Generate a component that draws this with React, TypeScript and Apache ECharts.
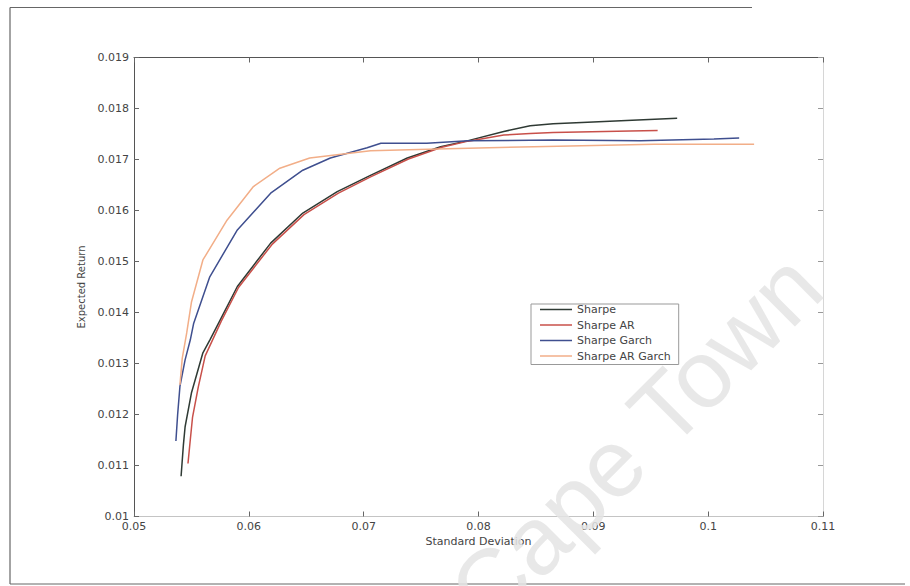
import React, { useEffect, useRef } from "react";
import * as echarts from "echarts";

const seriesNames = ["Sharpe", "Sharpe AR", "Sharpe Garch", "Sharpe AR Garch"];
const seriesColors = ["#2f3a34", "#c8504a", "#3f4f8f", "#f2ae88"];

const sharpe: [number, number][] = [
  [0.0541, 0.01079], [0.0543, 0.0114], [0.05445, 0.01176], [0.055, 0.01242],
  [0.056, 0.01321], [0.0566, 0.01346], [0.0575, 0.01385], [0.059, 0.01451],
  [0.0619, 0.01536], [0.0647, 0.01595], [0.0677, 0.01637], [0.0705, 0.01668],
  [0.0738, 0.01703], [0.0767, 0.01725], [0.0791, 0.01737], [0.0822, 0.01755],
  [0.0845, 0.01766], [0.0865, 0.0177], [0.0895, 0.01773], [0.0924, 0.01776],
  [0.0973, 0.01781],
];
const sharpeAR: [number, number][] = [
  [0.0547, 0.01104], [0.0549, 0.0115], [0.0551, 0.01195], [0.0556, 0.01254],
  [0.0562, 0.01315], [0.0576, 0.01383], [0.0591, 0.01449], [0.062, 0.01533],
  [0.0648, 0.01592], [0.0678, 0.01634], [0.0706, 0.01666], [0.0739, 0.01701],
  [0.0768, 0.01724], [0.0791, 0.01736], [0.0822, 0.01748], [0.0845, 0.01751],
  [0.0865, 0.01753], [0.0932, 0.01756], [0.0956, 0.01757],
];
const sharpeGarch: [number, number][] = [
  [0.05365, 0.01148], [0.0538, 0.012], [0.054, 0.01255], [0.05445, 0.01307],
  [0.0549, 0.01346], [0.0552, 0.01379], [0.0566, 0.0147], [0.059, 0.01562],
  [0.0619, 0.01634], [0.0647, 0.01679], [0.0671, 0.01703], [0.0703, 0.01723],
  [0.0715, 0.01732], [0.0755, 0.01732], [0.0791, 0.01737], [0.0865, 0.01738],
  [0.0941, 0.01737], [0.1005, 0.0174], [0.1027, 0.01742],
];
const sharpeARGarch: [number, number][] = [
  [0.054, 0.01258], [0.0542, 0.0131], [0.05459, 0.0136], [0.055, 0.0142],
  [0.056, 0.01503], [0.0581, 0.01581], [0.0604, 0.01647], [0.0627, 0.01683],
  [0.0653, 0.01703], [0.0706, 0.01717], [0.0773, 0.01721], [0.0848, 0.01725],
  [0.0953, 0.0173], [0.104, 0.0173],
];
const seriesData = [sharpe, sharpeAR, sharpeGarch, sharpeARGarch];

const xTickLabels = ["0.05", "0.06", "0.07", "0.08", "0.09", "0.1", "0.11"];
const yTickLabels = ["0.01", "0.011", "0.012", "0.013", "0.014", "0.015", "0.016", "0.017", "0.018", "0.019"];
const xMin = 0.05, xMax = 0.11, xStep = 0.01;
const yMin = 0.01, yMax = 0.019, yStep = 0.001;

const FONT = "DejaVu Sans";

export default function App() {
  const ref = useRef<HTMLDivElement>(null);
  useEffect(() => {
    if (!ref.current) return;
    const chart = echarts.init(ref.current, null, { renderer: "svg" });
    const tickStyle = { inside: true, length: 5, lineStyle: { color: "#666", width: 1 } };
    const labelStyle = { fontSize: 11, color: "#444", fontFamily: FONT };
    chart.setOption({
      animation: false,
      backgroundColor: "#ffffff",
      grid: { left: 134, right: 87, top: 57.5, bottom: 69.5 },
      xAxis: [
        {
          type: "value", min: xMin, max: xMax, interval: xStep, position: "bottom",
          axisLine: { show: true, lineStyle: { color: "#c4c4c4", width: 1 } },
          axisTick: tickStyle,
          axisLabel: {
            ...labelStyle, margin: 4,
            formatter: (v: number) => xTickLabels[Math.round((v - xMin) / xStep)] ?? "",
          },
          splitLine: { show: false },
          name: "Standard Deviation", nameLocation: "middle", nameGap: 18,
          nameTextStyle: { fontSize: 11, color: "#444", fontFamily: FONT },
        },
        {
          type: "value", min: xMin, max: xMax, interval: xStep, position: "top",
          axisLine: { show: true, lineStyle: { color: "#555", width: 1 } },
          axisTick: tickStyle, axisLabel: { show: false }, splitLine: { show: false },
        },
      ],
      yAxis: [
        {
          type: "value", min: yMin, max: yMax, interval: yStep, position: "left",
          axisLine: { show: true, lineStyle: { color: "#555", width: 1 } },
          axisTick: tickStyle,
          axisLabel: {
            ...labelStyle, margin: 5,
            formatter: (v: number) => yTickLabels[Math.round((v - yMin) / yStep)] ?? "",
          },
          splitLine: { show: false },
          name: "Expected Return", nameLocation: "middle", nameGap: 44,
          nameTextStyle: { fontSize: 10, color: "#444", fontFamily: FONT },
        },
        {
          type: "value", min: yMin, max: yMax, interval: yStep, position: "right",
          axisLine: { show: true, lineStyle: { color: "#d6d6d6", width: 1 } },
          axisTick: { inside: true, length: 5, lineStyle: { color: "#999", width: 1 } },
          axisLabel: { show: false }, splitLine: { show: false },
        },
      ],
      legend: {
        show: true,
        data: seriesNames,
        orient: "vertical",
        left: 531, top: 304,
        padding: [0, 8, 3, 9],
        icon: "rect",
        itemWidth: 32, itemHeight: 1.5, itemGap: 4.5,
        borderColor: "#999", borderWidth: 1,
        backgroundColor: "#fff",
        textStyle: { fontSize: 11, lineHeight: 11, color: "#444", fontFamily: FONT },
      },
      series: seriesNames.map((name, i) => ({
        name, type: "line", data: seriesData[i], xAxisIndex: 0, yAxisIndex: 0,
        symbol: "none", showSymbol: false,
        lineStyle: { color: seriesColors[i], width: 1.5 },
        itemStyle: { color: seriesColors[i] },
      })),
      graphic: [
        { type: "line", shape: { x1: 10, y1: 7.5, x2: 752, y2: 7.5 }, style: { stroke: "#666", lineWidth: 1.2 } },
        { type: "line", shape: { x1: 10, y1: 7.5, x2: 10, y2: 584 }, style: { stroke: "#666", lineWidth: 1.2 } },
        { type: "line", shape: { x1: 10, y1: 584, x2: 905, y2: 584 }, style: { stroke: "#666", lineWidth: 1.2 } },
        {
          type: "text", x: 500, y: 642, rotation: (45 * Math.PI) / 180, z: 100,
          style: {
            text: "Cape Town", fontSize: 96, fontFamily: "Liberation Sans",
            fill: "#e4e4e4", opacity: 0.85, textAlign: "left", textVerticalAlign: "bottom",
          },
        },
      ],
    });
    return () => chart.dispose();
  }, []);
  return <div ref={ref} style={{ position: "fixed", left: 0, top: 0, width: 910, height: 586 }} />;
}
